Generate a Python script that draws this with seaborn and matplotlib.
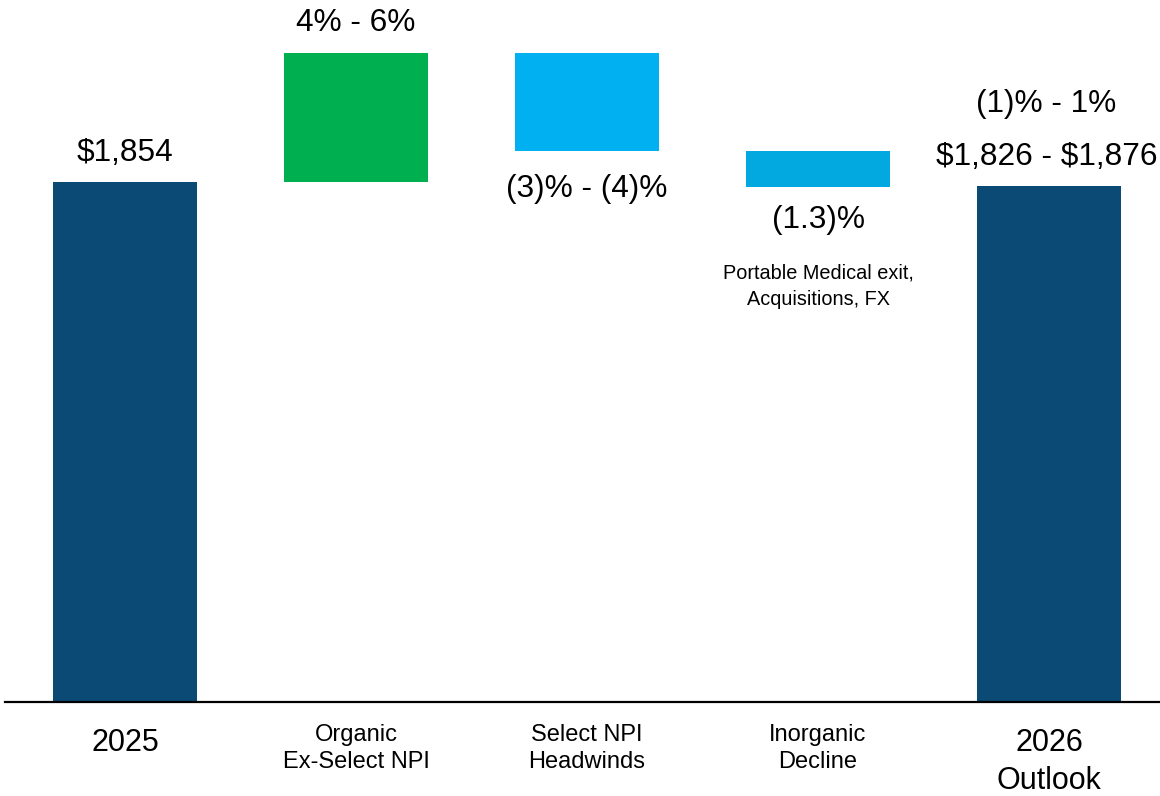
import matplotlib
matplotlib.use("Agg")
import matplotlib.pyplot as plt
import seaborn as sns
import pandas as pd

# ---- data (illustrative waterfall scale) ----
categories = ["2025", "Organic\nEx-Select NPI", "Select NPI\nHeadwinds", "Inorganic\nDecline", "2026\nOutlook"]
bar_bottoms = [0, 1854, 1964, 1836, 0]
bar_tops = [1854, 2314, 2314, 1964, 1840]
bar_colors = ["#0B4A74", "#00AF50", "#00B0F0", "#02A8E0", "#0B4A74"]
main_labels = [r"\$1,854", "4% - 6%", "(3)% - (4)%", "(1.3)%", r"\$1,826 - \$1,876"]
extra_labels = [None, None, None, "Portable Medical exit,\nAcquisitions, FX", "(1)% - 1%"]

sns.set_theme(style="white")
plt.rcParams["font.family"] = ["Liberation Sans", "DejaVu Sans"]

df = pd.DataFrame({
    "cat": categories,
    "height": [t - b for t, b in zip(bar_tops, bar_bottoms)],
    "bottom": bar_bottoms,
})

fig = plt.figure(figsize=(11.6, 7.96), dpi=100)
ax = fig.add_axes([5 / 1160, 94 / 796, 1155 / 1160, 702 / 796])

sns.barplot(data=df, x="cat", y="height", order=categories,
            bottom=df["bottom"].values, width=0.623, ax=ax,
            linewidth=0, saturation=1, color=bar_colors[0], errorbar=None)
for patch, c in zip(ax.patches, bar_colors):
    patch.set_facecolor(c)

ax.set_xlim(-0.519, 4.48)
ax.set_ylim(0, 2503)
for s in ["left", "right", "top"]:
    ax.spines[s].set_visible(False)
ax.spines["bottom"].set_color("black")
ax.spines["bottom"].set_linewidth(1.6)
ax.set_yticks([])
ax.set_xticks([])
ax.set_xlabel("")
ax.set_ylabel("")

# main value labels
above_off = {0: 21, 1: 21.5, 4: 21}
below_off = {2: 27, 3: 23.5}
for i, lab in enumerate(main_labels):
    b, t = bar_bottoms[i], bar_tops[i]
    if i in above_off:
        ax.annotate(lab, xy=(i, t), xytext=(-2 if i == 4 else 0, above_off[i]),
                    textcoords="offset points",
                    ha="center", va="center", fontsize=22.8, color="black")
    else:
        ax.annotate(lab, xy=(i, b), xytext=(0, -below_off[i]), textcoords="offset points",
                    ha="center", va="center", fontsize=22.8, color="black")

# extra labels
ax.annotate(extra_labels[3], xy=(3, bar_bottoms[3]), xytext=(0, -55), textcoords="offset points",
            ha="center", va="top", fontsize=14.3, color="black", linespacing=1.47)
ax.annotate(extra_labels[4], xy=(4, bar_tops[4]), xytext=(-2, 59), textcoords="offset points",
            ha="center", va="center", fontsize=22.8, color="black")

# category labels
for i, cat in enumerate(categories):
    big = i in (0, 4)
    ax.annotate(cat, xy=(i, 0), xycoords=("data", "axes fraction"),
                xytext=(0, -19 if big else -15.5), textcoords="offset points",
                ha="center", va="top", fontsize=22 if big else 17,
                linespacing=1.32 if big else 1.35, color="black")

fig.savefig("out.png", dpi=100)
